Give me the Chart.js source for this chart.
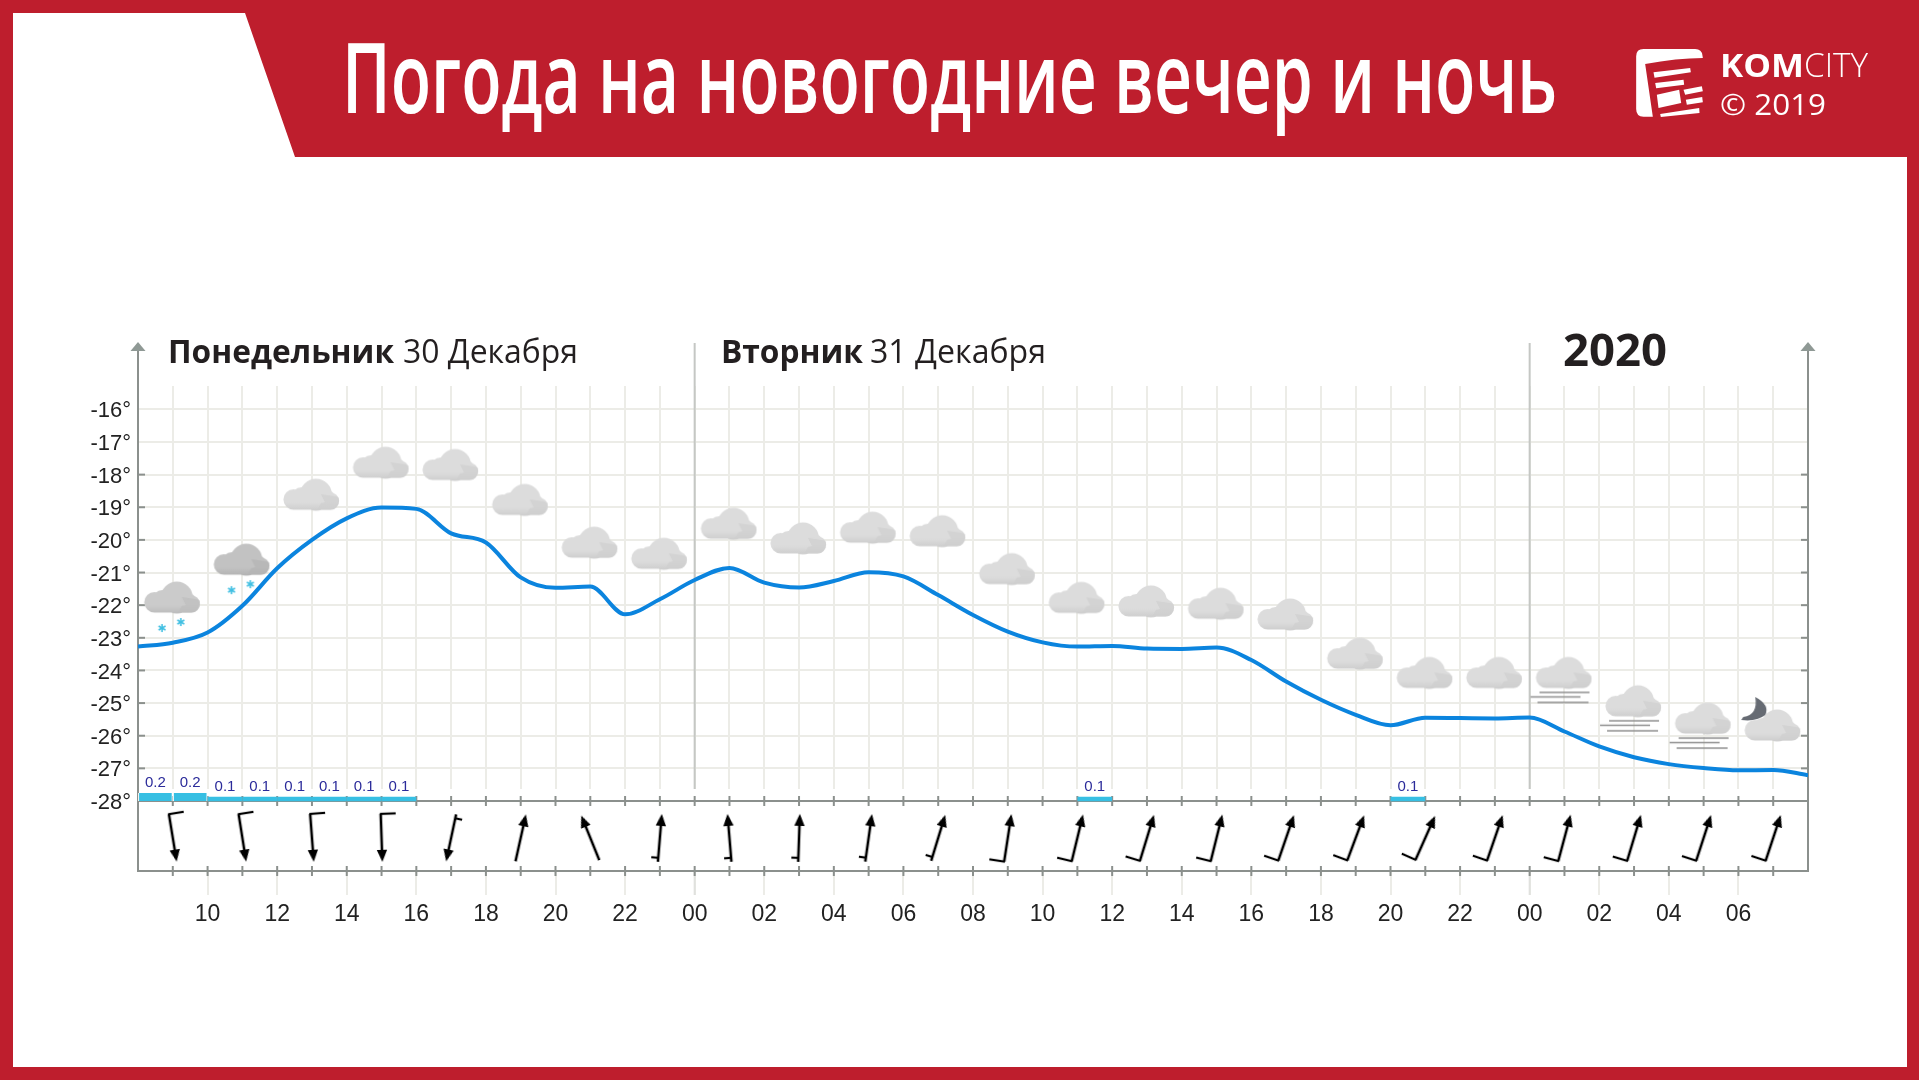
<!DOCTYPE html>
<html lang="ru">
<head>
<meta charset="utf-8">
<title>Погода на новогодние вечер и ночь</title>
<script src="https://cdn.jsdelivr.net/npm/chart.js@4"></script>
<style>
  html, body { margin: 0; padding: 0; background: #fff; width: 1919px; height: 1080px; overflow: hidden; }
  .red { position: absolute; background: #be1e2d; }
  .txt { position: absolute; left: 0; top: 0; white-space: nowrap; transform-origin: 0 0; line-height: normal; }
  #logo { position: absolute; left: 1636px; top: 49px; }
  #chart { position: absolute; left: 0; top: 0; }
</style>
</head>
<body>
<div class="red" style="left:0;top:0;width:13px;height:1080px"></div>
<div class="red" style="left:1907px;top:0;width:12px;height:1080px"></div>
<div class="red" style="left:0;top:1067px;width:1919px;height:13px"></div>
<div class="red" style="left:0;top:0;width:1919px;height:157px;clip-path:polygon(0 0,1919px 0,1919px 157px,295px 157px,245px 13px,0 13px)"></div>
<svg id="logo" width="67" height="68" viewBox="108 88 200 204" fill="#fff">
  <path d="M108 110Q108 88 130 88L285 88Q305 88 307 108L308 115Q230 115 135 133L158 291L130 291Q108 291 108 268Z"/>
  <path d="M160 158L270 145L272 158L163 174Z"/>
  <path d="M165 190L250 180L252 195L168 206Z"/>
  <path d="M170 225L237 210L243 250L175 265Z"/>
  <path d="M250 210L305 200L308 215L255 225Z"/>
  <path d="M257 240L306 232L308 248L260 255Z"/>
  <path d="M180 283L297 265L298 280L182 292Z"/>
</svg>
<canvas id="chart" width="1919" height="1080"></canvas>

<script>
// часы считаем от 00:00 понедельника, ось идет с 08 до 08 через двое суток
const hours = [8,9,10,11,12,13,14,15,16,17,18,19,20,21,22,23,24,25,26,27,28,29,30,31,32,33,34,35,36,37,38,39,40,41,42,43,44,45,46,47,48,49,50,51,52,53,54,55,56];
const temps = [-23.27,-23.15,-22.84,-22.02,-20.87,-20.0,-19.34,-19.01,-19.05,-19.8,-20.08,-21.15,-21.47,-21.43,-22.28,-21.82,-21.23,
  -20.86,-21.31,-21.46,-21.26,-20.99,-21.12,-21.69,-22.30,-22.81,-23.14,-23.27,-23.25,-23.33,-23.34,-23.30,-23.68,
  -24.34,-24.90,-25.36,-25.68,-25.45,-25.46,-25.47,-25.44,-25.87,-26.33,-26.66,-26.87,-26.99,-27.06,-27.05,-27.21];

const iconHours = [9,11,13,15,17,19,21,23,25,27,29,31,33,35,37,39,41,43,45,47,49,51,53,55];
const cloudLevels = [-21.75,-20.59,-18.60,-17.62,-17.69,-18.76,-20.07,-20.41,-19.49,-19.94,-19.61,-19.72,-20.88,-21.76,-21.87,-21.94,-22.27,-23.47,-24.06,-24.06,-24.06,-24.93,-25.46,-25.67];
const cloudKinds = ['snow','heavy','cloud','cloud','cloud','cloud','cloud','cloud','cloud','cloud','cloud','cloud','cloud','cloud','cloud','cloud','cloud','cloud','cloud','cloud','mist','mist','mist','moon'];

// ветер: угол стрелки по часовой от "вверх" и перо (0 нет, 1 короткое, 2 длинное)
const windDirs = [170.7,171,175.7,178,192,12.5,-22,4.7,-4.7,2,8,17,8.7,13.6,17,14,19,20.5,24,19,15,16.7,18,18.3];
const windBarbs = [2,2,2,2,1,0,0,1,1,1,1,1,2,2,2,2,2,2,2,2,2,2,2,2];
const windLevel = -29.13;

const precipHours = [8.5,9.5,10.5,11.5,12.5,13.5,14.5,15.5,35.5,44.5];
const precipValues = [0.2,0.2,0.1,0.1,0.1,0.1,0.1,0.1,0.1,0.1];

const tempTicks = [-16,-17,-18,-19,-20,-21,-22,-23,-24,-25,-26,-27,-28];
const hourLabels = {10:'10',12:'12',14:'14',16:'16',18:'18',20:'20',22:'22',24:'00',26:'02',28:'04',30:'06',32:'08',34:'10',36:'12',38:'14',40:'16',42:'18',44:'20',46:'22',48:'00',50:'02',52:'04',54:'06'};
const midnightHours = [24,48];

const gridColor = '#ecece7';
const axisColor = '#8b908d';

// подписи поверх страницы
function placeText(text, x, baseline, width, font, color) {
    const el = document.createElement('span');
    el.className = 'txt';
    el.textContent = text;
    el.style.font = font;
    el.style.color = color;
    const m = document.createElement('canvas').getContext('2d');
    m.font = font;
    const tm = m.measureText(text);
    const sx = width ? width / tm.width : 1;
    el.style.transform = 'translate(' + x + 'px,' + (baseline - tm.fontBoundingBoxAscent) + 'px) scaleX(' + sx + ')';
    document.body.appendChild(el);
}
placeText('Погода на новогодние вечер и ночь', 342, 113, 1215, '600 98px "Open Sans"', '#fff');
placeText('KOM', 1720, 77, 84, '700 33px "Open Sans"', '#fff');
placeText('CITY', 1804, 77, 64, '300 33px "Open Sans"', '#fff');
placeText('© 2019', 1720, 115, 106, '400 30px "Open Sans"', '#fff');
placeText('Понедельник', 168, 362.5, 226, '700 32px "Open Sans"', '#231f20');
placeText('30 Декабря', 403, 362.5, 175, '400 32px "Open Sans"', '#231f20');
placeText('Вторник', 721, 362.5, 142, '700 32px "Open Sans"', '#231f20');
placeText('31 Декабря', 870, 362.5, 176, '400 32px "Open Sans"', '#231f20');
placeText('2020', 1563, 366, 104, '700 45px "Open Sans"', '#231f20');

// значки облаков
function makeCloud(kind) {
    const c = document.createElement('canvas');
    c.width = 90; c.height = 100;
    const g = c.getContext('2d');
    g.translate(44, 50);
    const colors = {snow: ['#cbcbcb', '#bdbdbd'], heavy: ['#c2c2c2', '#b3b3b3']};
    const col = colors[kind] || ['#dcdcdc', '#cecece'];

    function outline() {
        g.beginPath();
        g.arc(5, 0.5, 16, 0, Math.PI * 2);
        g.moveTo(0, 3); g.arc(-9.5, 3, 10, 0, Math.PI * 2);
        g.moveTo(-8, 6); g.arc(-17.3, 5.3, 10.3, 0, Math.PI * 2);
        g.moveTo(28, 6.8); g.arc(19.5, 6.8, 8.6, 0, Math.PI * 2);
        g.rect(-17.5, 4, 37.6, 11.5);
        g.moveTo(14, -9); g.lineTo(27, 3); g.lineTo(10, 12); g.closePath();
    }
    const fill = g.createLinearGradient(0, -16, 0, 16);
    fill.addColorStop(0, col[0]);
    fill.addColorStop(0.76, col[0]);
    fill.addColorStop(1, col[1]);
    g.fillStyle = fill;
    outline();
    g.fill('nonzero');
    g.save();
    outline();
    g.clip();
    g.fillStyle = col[1];
    g.globalAlpha = 0.7;
    g.beginPath();
    g.moveTo(6, 16); g.lineTo(10, 9); g.lineTo(14, 8);
    g.lineTo(10, 0); g.lineTo(29, 3); g.lineTo(29, 16);
    g.closePath();
    g.fill();
    g.restore();

    if (kind === 'snow' || kind === 'heavy') {
        [[-9.8, 31], [9, 25]].forEach(function (p) {
            g.strokeStyle = '#40bfe2';
            g.lineWidth = 1.6;
            for (let i = 0; i < 3; i++) {
                const a = i * Math.PI / 3 + Math.PI / 2;
                g.beginPath();
                g.moveTo(p[0] - 4 * Math.cos(a), p[1] - 4 * Math.sin(a));
                g.lineTo(p[0] + 4 * Math.cos(a), p[1] + 4 * Math.sin(a));
                g.stroke();
            }
        });
    }
    if (kind === 'mist') {
        g.strokeStyle = '#8f8f8f';
        g.lineWidth = 1.5;
        [[-24, 26, 20], [-33, 17, 24.5], [-26, 25, 30]].forEach(function (l) {
            g.beginPath(); g.moveTo(l[0], l[2]); g.lineTo(l[1], l[2]); g.stroke();
        });
    }
    if (kind === 'moon') {
        g.fillStyle = '#666b73';
        g.beginPath();
        g.moveTo(-17, -28);
        g.quadraticCurveTo(-2, -20, -7, -10);
        g.quadraticCurveTo(-16, -3, -31, -5);
        g.lineTo(-29, -8);
        g.quadraticCurveTo(-14, -10, -17, -28);
        g.closePath();
        g.fill();
    }
    return c;
}

// значок ветра рисуем стрелкой вверх, поворот делает сам Chart.js
function makeArrow(barb) {
    const c = document.createElement('canvas');
    c.width = 80; c.height = 80;
    const g = c.getContext('2d');
    g.translate(40, 40);
    g.strokeStyle = '#000';
    g.fillStyle = '#000';
    g.lineWidth = 2.6;
    g.beginPath(); g.moveTo(0, 24); g.lineTo(0, -15); g.stroke();
    g.beginPath(); g.moveTo(0, -24); g.lineTo(5.2, -12); g.lineTo(-5.2, -12); g.closePath(); g.fill();
    g.lineWidth = 2.2;
    if (barb === 2) {
        g.beginPath(); g.moveTo(0.8, 24); g.lineTo(-15, 24); g.stroke();
    } else if (barb === 1) {
        g.beginPath(); g.moveTo(0, 20); g.lineTo(-7, 20); g.stroke();
    }
    return c;
}

const cloudIcons = {};
['snow', 'heavy', 'cloud', 'mist', 'moon'].forEach(function (k) { cloudIcons[k] = makeCloud(k); });
const arrowIcons = [makeArrow(0), makeArrow(1), makeArrow(2)];

// оси, засечки и полуночные линии: поверх сетки, под данными
const framePlugin = {
    id: 'frame',
    beforeDatasetsDraw(chart) {
        const ctx = chart.ctx;
        const x = chart.scales.x;
        const y = chart.scales.y;
        const area = chart.chartArea;
        const baseY = y.getPixelForValue(-28);

        function seg(x1, y1, x2, y2, color, w) {
            ctx.strokeStyle = color;
            ctx.lineWidth = w;
            ctx.beginPath(); ctx.moveTo(x1, y1); ctx.lineTo(x2, y2); ctx.stroke();
        }
        ctx.save();
        // сетка не заходит в полосу ветра
        ctx.fillStyle = '#fff';
        ctx.fillRect(area.left, baseY - 12, area.width, area.bottom - baseY + 12);

        midnightHours.forEach(function (h) {
            const px = x.getPixelForValue(h);
            seg(px, 343, px, baseY - 12, '#c5c7c4', 2);
            seg(px, area.bottom, px, area.bottom + 24, '#e0e1de', 2);
        });

        seg(area.left, baseY, area.right, baseY, axisColor, 2);
        seg(area.left, area.bottom, area.right, area.bottom, axisColor, 2);
        [area.left, area.right].forEach(function (px) {
            seg(px, 350, px, area.bottom + 1, axisColor, 2);
            ctx.fillStyle = '#8f9995';
            ctx.beginPath();
            ctx.moveTo(px, 342); ctx.lineTo(px + 7.5, 351); ctx.lineTo(px - 7.5, 351);
            ctx.closePath();
            ctx.fill();
        });
        hours.slice(1, -1).forEach(function (h) {
            const px = x.getPixelForValue(h);
            seg(px, baseY - 5, px, baseY + 5, axisColor, 2);
            seg(px, area.bottom - 5, px, area.bottom + 5, axisColor, 2);
        });
        tempTicks.slice(2, -1).forEach(function (t) {
            const py = y.getPixelForValue(t);
            seg(area.left, py, area.left + 7, py, axisColor, 2);
            seg(area.right - 7, py, area.right, py, axisColor, 2);
        });
        ctx.restore();
    },
    afterDatasetsDraw(chart) {
        const ctx = chart.ctx;
        const meta = chart.getDatasetMeta(0);
        ctx.save();
        ctx.font = '15px "Liberation Sans"';
        ctx.fillStyle = '#2b2b9a';
        ctx.textAlign = 'center';
        ctx.textBaseline = 'middle';
        meta.data.forEach(function (bar, i) {
            ctx.fillText(precipValues[i].toFixed(1), bar.x, bar.y - 10);
        });
        ctx.restore();
    }
};

new Chart(document.getElementById('chart'), {
    type: 'line',
    plugins: [framePlugin],
    data: {
        datasets: [
            {
                type: 'bar',
                yAxisID: 'yPrecip',
                data: precipHours.map((h, i) => ({x: h, y: precipValues[i]})),
                backgroundColor: '#37bfe3',
                barThickness: 34,
                borderColor: '#fff',
                borderSkipped: false,
                borderWidth: (c) => (precipValues[c.dataIndex] > 0.1 ? {left: 1, right: 1} : 0),
                order: 4
            },
            {
                type: 'scatter',
                data: iconHours.map((h, i) => ({x: h, y: cloudLevels[i]})),
                pointStyle: cloudKinds.map((k) => cloudIcons[k]),
                order: 3
            },
            {
                type: 'scatter',
                data: iconHours.map((h) => ({x: h, y: windLevel})),
                pointStyle: windBarbs.map((b) => arrowIcons[b]),
                rotation: windDirs,
                order: 2
            },
            {
                type: 'line',
                data: hours.map((h, i) => ({x: h, y: temps[i]})),
                borderColor: '#0b84de',
                borderWidth: 4,
                pointRadius: 0,
                cubicInterpolationMode: 'monotone',
                order: 1
            }
        ]
    },
    options: {
        responsive: false,
        animation: false,
        events: [],
        layout: {padding: {left: 0, top: 386, right: 111, bottom: 0}},
        plugins: {legend: {display: false}, tooltip: {enabled: false}},
        scales: {
            x: {
                type: 'linear',
                min: 8,
                max: 56,
                offset: false,
                afterBuildTicks(axis) { axis.ticks = hours.map((h) => ({value: h})); },
                afterFit(axis) { axis.height = 209; },
                border: {display: false},
                grid: {
                    offset: false,
                    color: gridColor,
                    lineWidth: 2,
                    tickLength: 24,
                    tickWidth: 2,
                    tickColor: (c) => (hourLabels[c.tick && c.tick.value] ? gridColor : 'rgba(0,0,0,0)')
                },
                ticks: {
                    autoSkip: false,
                    maxRotation: 0,
                    padding: 6,
                    color: '#222',
                    font: {family: '"Liberation Sans"', size: 23},
                    callback: (v) => hourLabels[v] || ''
                }
            },
            y: {
                type: 'linear',
                min: -30.145,
                max: -15.285,
                afterBuildTicks(axis) { axis.ticks = tempTicks.map((t) => ({value: t})); },
                afterFit(axis) { axis.width = 138; },
                border: {display: false},
                grid: {color: gridColor, lineWidth: 2, drawTicks: false},
                ticks: {
                    autoSkip: false,
                    padding: 7,
                    labelOffset: 2,
                    color: '#222',
                    font: {family: '"Liberation Sans"', size: 22},
                    callback: (v) => v + '°'
                }
            },
            yPrecip: {type: 'linear', display: false, min: -1.75, max: 10.375}
        }
    }
});
</script>
</body>
</html>
